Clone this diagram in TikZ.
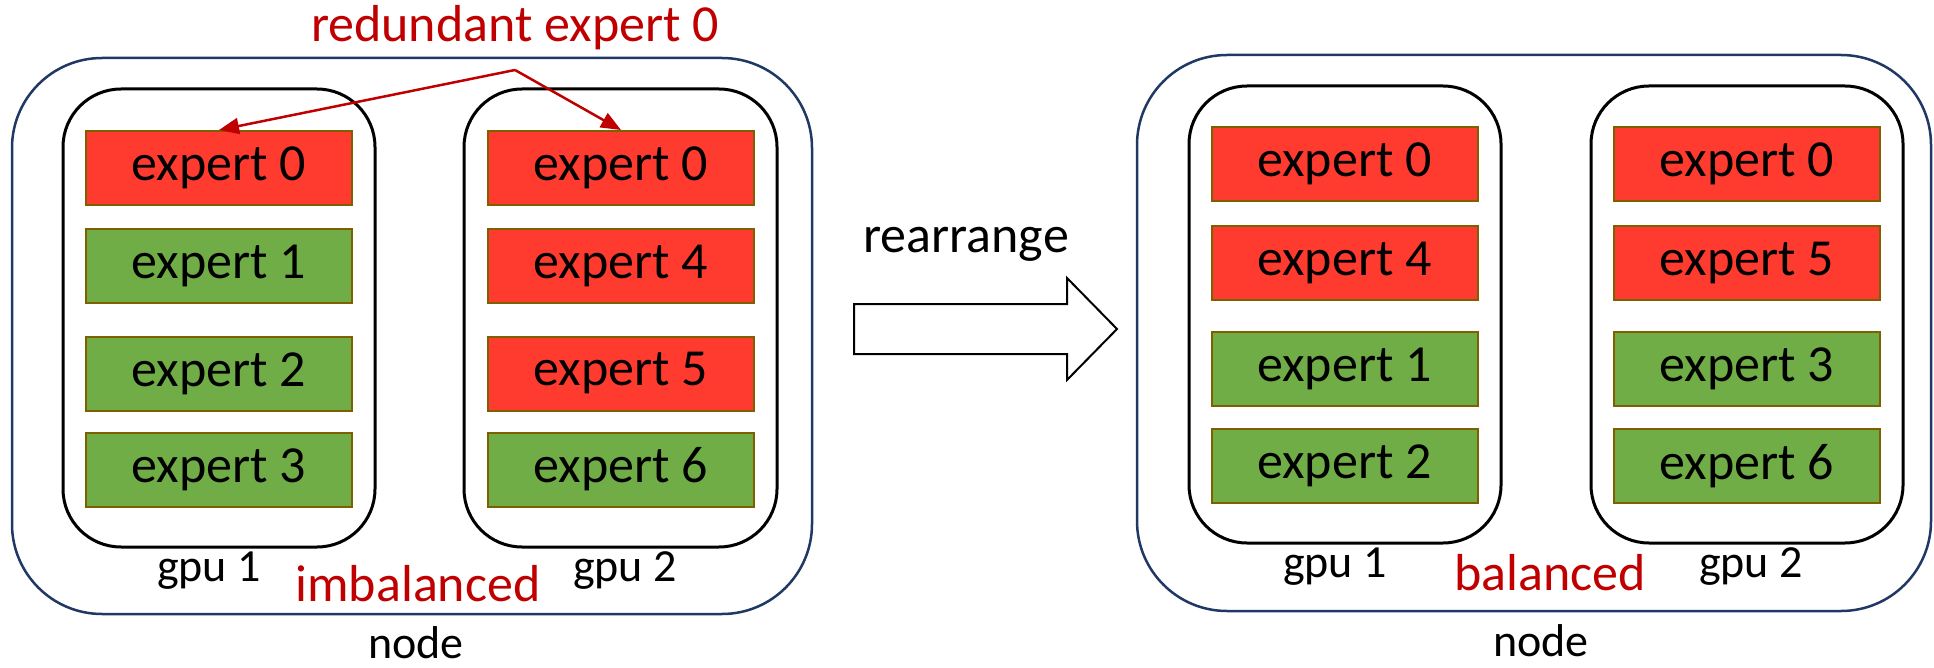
\documentclass[tikz,border=0pt]{standalone}
\usepackage{fontspec}
\setmainfont{Carlito}
\usetikzlibrary{arrows.meta}
\definecolor{hotred}{HTML}{FF3B30}
\definecolor{coolgreen}{HTML}{70AD47}
\definecolor{edgebrown}{HTML}{7F6000}
\definecolor{navyline}{HTML}{203864}
\definecolor{darkred}{HTML}{C00000}

\begin{document}
\begin{tikzpicture}[x=1pt,y=-1pt,
        expbox/.style={draw=edgebrown,line width=2pt,minimum width=266pt,minimum height=74pt,inner sep=0pt,font=\fontsize{52}{60}\selectfont},
        hot/.style={expbox,fill=hotred},
        cool/.style={expbox,fill=coolgreen},
        gpubox/.style={draw=black,line width=3pt,rounded corners=58pt},
        nodebox/.style={draw=navyline,line width=2.5pt,rounded corners=90pt},
        lbl/.style={inner sep=0pt,font=\fontsize{46}{54}\selectfont},
        redlbl/.style={inner sep=0pt,text=darkred,font=\fontsize{52}{60}\selectfont},
        redarrow/.style={draw=darkred,line width=2.5pt,-{Triangle[length=20pt,width=16pt]}}]
        \useasboundingbox (0,0) rectangle (1934,668);
        % imbalanced node
        \draw[nodebox](12,58) rectangle (812,614);
        \draw[gpubox](63,89) rectangle (375,547);
        \draw[gpubox](464,89) rectangle (777,547);
        \node[hot] (a0) at (219,168) {expert 0};
        \node[cool] (a1) at (219,266) {expert 1};
        \node[cool] (a2) at (219,373.5) {expert 2};
        \node[cool] (a3) at (219,469.5) {expert 3};
        \node[hot] (b0) at (621,168) {expert 0};
        \node[hot] (b4) at (621,266) {expert 4};
        \node[hot] (b5) at (621,373.5) {expert 5};
        \node[cool] (b6) at (621,469.5) {expert 6};
        \node[lbl] (agpu) at (209,571) {gpu 1};
        \node[lbl] (bgpu) at (625,571) {gpu 2};
        \node[redlbl] (imb) at (418,584) {imbalanced};
        \node[lbl] (anode) at (416,643) {node};
        \node[redlbl] (redun) at (515,28) {redundant expert 0};
        \coordinate (src) at (515,70);
        \draw[redarrow](src)--(a0.north);
        \draw[redarrow](src)--(b0.north);
        % rearrange arrow
        \node[redlbl,text=black] (rearr) at (966,244) {rearrange};
        \draw[line width=2pt](854,304)--(1067,304)--(1067,278)--(1117,329)--(1067,380)--(1067,354)--(854,354)--cycle;
        % balanced node
        \draw[nodebox](1137,55) rectangle (1931,611);
        \draw[gpubox](1189,86) rectangle (1501,543);
        \draw[gpubox](1591,86) rectangle (1903,543);
        \node[hot] (c0) at (1344.5,164) {expert 0};
        \node[hot] (c4) at (1344.5,263) {expert 4};
        \node[cool] (c1) at (1344.5,368.5) {expert 1};
        \node[cool] (c2) at (1344.5,466) {expert 2};
        \node[hot] (d0) at (1747,164) {expert 0};
        \node[hot] (d5) at (1747,263) {expert 5};
        \node[cool] (d3) at (1747,368.5) {expert 3};
        \node[cool] (d6) at (1747,466) {expert 6};
        \node[lbl] (cgpu) at (1335,567) {gpu 1};
        \node[lbl] (dgpu) at (1751,567) {gpu 2};
        \node[redlbl] (bal) at (1550,573) {balanced};
        \node[lbl] (bnode) at (1541,641) {node};
    \end{tikzpicture}
\end{document}
